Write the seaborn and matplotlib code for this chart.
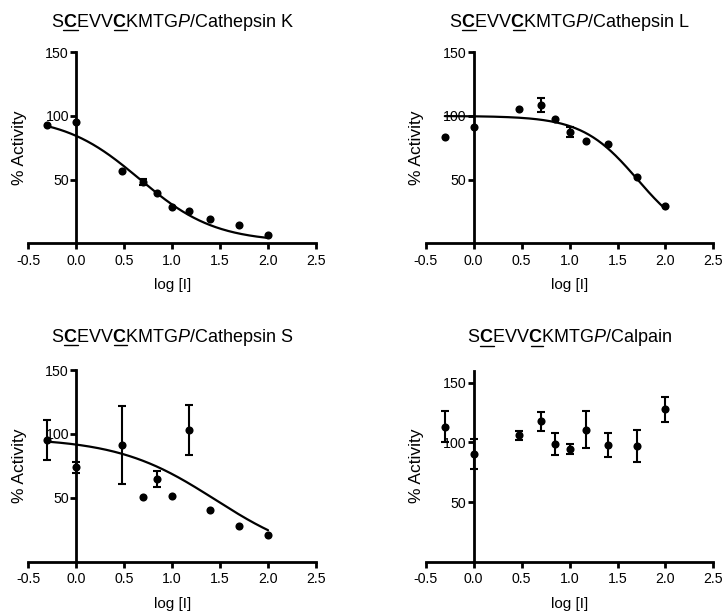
import numpy as np
import pandas as pd
import matplotlib
matplotlib.use("Agg")
import matplotlib.pyplot as plt
import seaborn as sns
from matplotlib.transforms import IdentityTransform
from matplotlib.lines import Line2D

# ---- data -------------------------------------------------------------
log_conc = [-0.301, 0.0, 0.477, 0.699, 0.845, 1.0, 1.176, 1.398, 1.699, 2.0]

enzymes = ["Cathepsin K", "Cathepsin L", "Cathepsin S", "Calpain"]

catk_mean = [92.9, 95.3, 57.0, 48.1, 39.7, 28.3, 25.6, 18.8, 14.1, 6.8]
catk_err = [0, 0, 0, 2.6, 0, 0, 0, 0, 0, 0]

catl_mean = [83.2, 91.3, 105.7, 108.6, 97.6, 87.2, 80.3, 78.2, 52.1, 29.5]
catl_err = [0, 0, 0, 5.6, 0, 3.9, 0, 0, 0, 0]

cats_mean = [95.2, 73.9, 91.1, 50.4, 64.7, 51.4, 102.8, 40.7, 27.9, 20.9]
cats_err = [15.9, 4.3, 30.4, 0, 6.1, 0, 19.6, 0, 0, 0]

calp_mean = [113.1, 90.2, 106.1, 117.6, 98.6, 94.1, 110.6, 97.7, 96.9, 127.6]
calp_err = [13.2, 12.6, 3.8, 8.0, 9.2, 4.2, 15.3, 10.3, 13.6, 10.5]

# four-parameter logistic fits: (top, bottom, logIC50, Hill slope); None = no fit
catk_fit = (100.0, 1.0, 0.66, 1.1)
catl_fit = (100.0, 0.0, 1.71, 1.5)
cats_fit = (97.0, 0.0, 1.45, 0.85)
calp_fit = None

x_ticks = [-0.5, 0.0, 0.5, 1.0, 1.5, 2.0, 2.5]
y_ticks = [50, 100, 150]
y_max = [150, 150, 150, 160]

# ---- style ------------------------------------------------------------
sns.set_theme(style="ticks")
plt.rcParams["font.family"] = ["Liberation Sans", "DejaVu Sans"]
plt.rcParams["mathtext.fontset"] = "custom"
plt.rcParams["mathtext.rm"] = "Liberation Sans"
plt.rcParams["mathtext.bf"] = "Liberation Sans:bold"
plt.rcParams["mathtext.it"] = "Liberation Sans:italic"

W, H = 728, 615
fig = plt.figure(figsize=(W / 100, H / 100), dpi=100)

# axes rectangles in pixels: left, top, width, height
rects_px = [
    (28.3, 52.3, 287.7, 191.0),
    (425.7, 52.3, 287.7, 191.0),
    (28.3, 370.0, 287.7, 191.7),
    (425.7, 370.7, 287.7, 191.0),
]
title_baseline = [26.7, 26.7, 342.0, 342.5]

means = [catk_mean, catl_mean, cats_mean, calp_mean]
errs = [catk_err, catl_err, cats_err, calp_err]
fits = [catk_fit, catl_fit, cats_fit, calp_fit]


def logistic(x, top, bottom, logic50, hill):
    return bottom + (top - bottom) / (1.0 + 10.0 ** ((x - logic50) * hill))


def draw_title(cx, baseline_from_top, parts, size=13):
    renderer = fig.canvas.get_renderer()
    base_y = H - baseline_from_top

    def width(s):
        t = fig.text(0, 0, s, fontsize=size, transform=IdentityTransform())
        w = t.get_window_extent(renderer).width
        t.remove()
        return w

    full = "".join(p for p, _ in parts)
    total = width(full)
    x0 = cx - total / 2
    fig.text(x0, base_y, full, fontsize=size, ha="left", va="baseline",
             color="black", transform=IdentityTransform())
    prefix = ""
    for frag, underline in parts:
        if underline:
            a = width(prefix) if prefix else 0.0
            b = width(prefix + frag)
            fig.add_artist(Line2D([x0 + a + 0.5, x0 + b + 0.5],
                                  [base_y - 3.3, base_y - 3.3],
                                  transform=IdentityTransform(),
                                  color="black", lw=1.0))
        prefix += frag


for i, (l, t, w, h) in enumerate(rects_px):
    ax = fig.add_axes([l / W, (H - t - h) / H, w / W, h / H])
    df = pd.DataFrame({"log": log_conc, "act": means[i], "err": errs[i]})

    if fits[i] is not None:
        xs = np.linspace(log_conc[0], log_conc[-1], 200)
        curve = pd.DataFrame({"log": xs, "act": logistic(xs, *fits[i])})
        sns.lineplot(data=curve, x="log", y="act", ax=ax, color="black",
                     lw=1.6, estimator=None, zorder=2)

    bars = df[df["err"] > 0]
    ax.errorbar(bars["log"], bars["act"], yerr=bars["err"], fmt="none",
                ecolor="black", elinewidth=1.5, capsize=3.2, capthick=1.5,
                zorder=3, clip_on=False)
    sns.scatterplot(data=df, x="log", y="act", ax=ax, color="black", s=34,
                    linewidth=0, zorder=4, clip_on=False)

    ax.set_xlim(-0.5, 2.5)
    ax.set_ylim(0, y_max[i])
    ax.set_xticks(x_ticks)
    ax.set_xticklabels([f"{v:.1f}" for v in x_ticks])
    ax.set_yticks(y_ticks)
    ax.set_yticklabels([str(v) for v in y_ticks])

    sns.despine(ax=ax)
    ax.spines["left"].set_position(("data", 0))
    for s in ("left", "bottom"):
        ax.spines[s].set_linewidth(2.0)
        ax.spines[s].set_color("black")

    ax.tick_params(axis="both", direction="out", width=2.0, length=4.5,
                   color="black", labelsize=10.2, labelcolor="black")
    ax.tick_params(axis="x", pad=3.2)
    ax.tick_params(axis="y", pad=0.8)

    ax.set_xlabel("log [I]", fontsize=11, color="black")
    ax.set_ylabel("% Activity", fontsize=12.5, color="black")
    ax.xaxis.set_label_coords(0.5, -0.183)
    ax.yaxis.set_label_coords(-0.006, 0.5)
    ax.set_facecolor("none")

    parts = [("S", False), (r"$\mathbf{C}$", True), ("EVV", False),
             (r"$\mathbf{C}$", True),
             (r"KMTG$\mathit{P}$/" + enzymes[i], False)]
    draw_title(l + w / 2, title_baseline[i], parts)

fig.savefig("out.png", dpi=100, facecolor="white")
